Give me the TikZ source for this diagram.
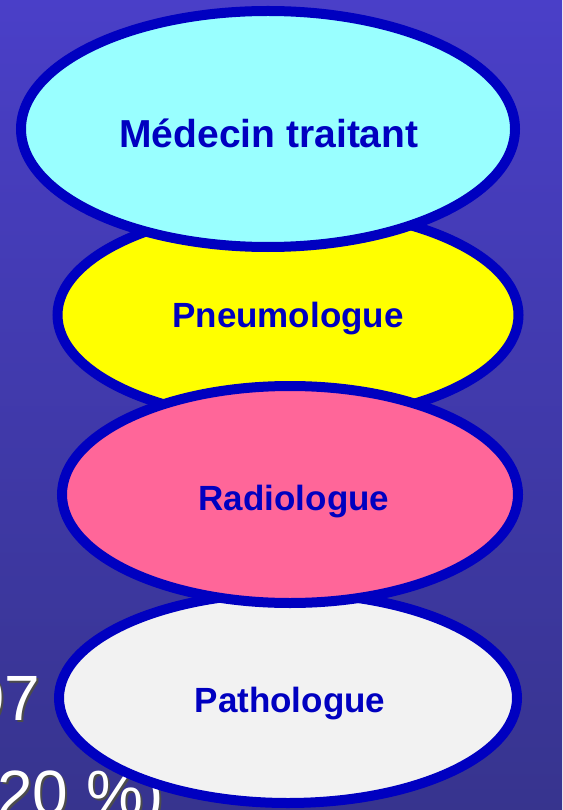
\documentclass[tikz,border=0pt]{standalone}
\usepackage{fontspec}
\setmainfont{Liberation Sans}
\usetikzlibrary{shapes.geometric}
\definecolor{bgtop}{HTML}{4A3FC8}
\definecolor{bgbot}{HTML}{37348E}
\definecolor{edge}{HTML}{0000C0}
\definecolor{cyanfill}{HTML}{99FFFF}
\definecolor{yelfill}{HTML}{FFFF00}
\definecolor{pinkfill}{HTML}{FF6699}
\definecolor{grayfill}{HTML}{F2F2F2}
\tikzset{
  oval/.style={ellipse, draw=edge, line width=10pt, inner sep=0pt},
  lbl/.style={anchor=base, text=edge, font=\bfseries\fontsize{35}{40}\selectfont, inner sep=0pt},
  big/.style={anchor=base west, text=white, font=\fontsize{64}{70}\selectfont, inner sep=0pt},
  bigshadow/.style={anchor=base west, text=black!70, font=\fontsize{64}{70}\selectfont, inner sep=0pt}
}
\begin{document}
\begin{tikzpicture}[x=1pt,y=-1pt]
\useasboundingbox (0,0) rectangle (562,810);
\clip (0,0) rectangle (562,810);
\shade[top color=bgtop, bottom color=bgbot] (0,0) rectangle (562,810);
% background text
\node[bigshadow] (t1s) at (-29,722) {97 (};
\node[big] (t1) at (-31,720) {97 (};
\node[bigshadow] (t2s) at (-1,817) {20 \%)};
\node[big] (t2) at (-3,815) {20 \%)};
% ellipses
\node[oval, fill=yelfill, minimum width=461pt, minimum height=212pt] (pneu) at (288,315) {};
\node[oval, fill=grayfill, minimum width=458pt, minimum height=210pt] (patho) at (288,698) {};
\node[oval, fill=pinkfill, minimum width=456pt, minimum height=217pt] (radio) at (290,494.5) {};
\node[oval, fill=cyanfill, minimum width=494pt, minimum height=236pt] (med) at (268,129) {};
% labels
\node[lbl, font=\bfseries\fontsize{39}{44}\selectfont] (medt) at (269,148) {Médecin traitant};
\node[lbl] (pneut) at (288,327) {Pneumologue};
\node[lbl] (radiot) at (294,510) {Radiologue};
\node[lbl] (pathot) at (290,712) {Pathologue};
\end{tikzpicture}
\end{document}
